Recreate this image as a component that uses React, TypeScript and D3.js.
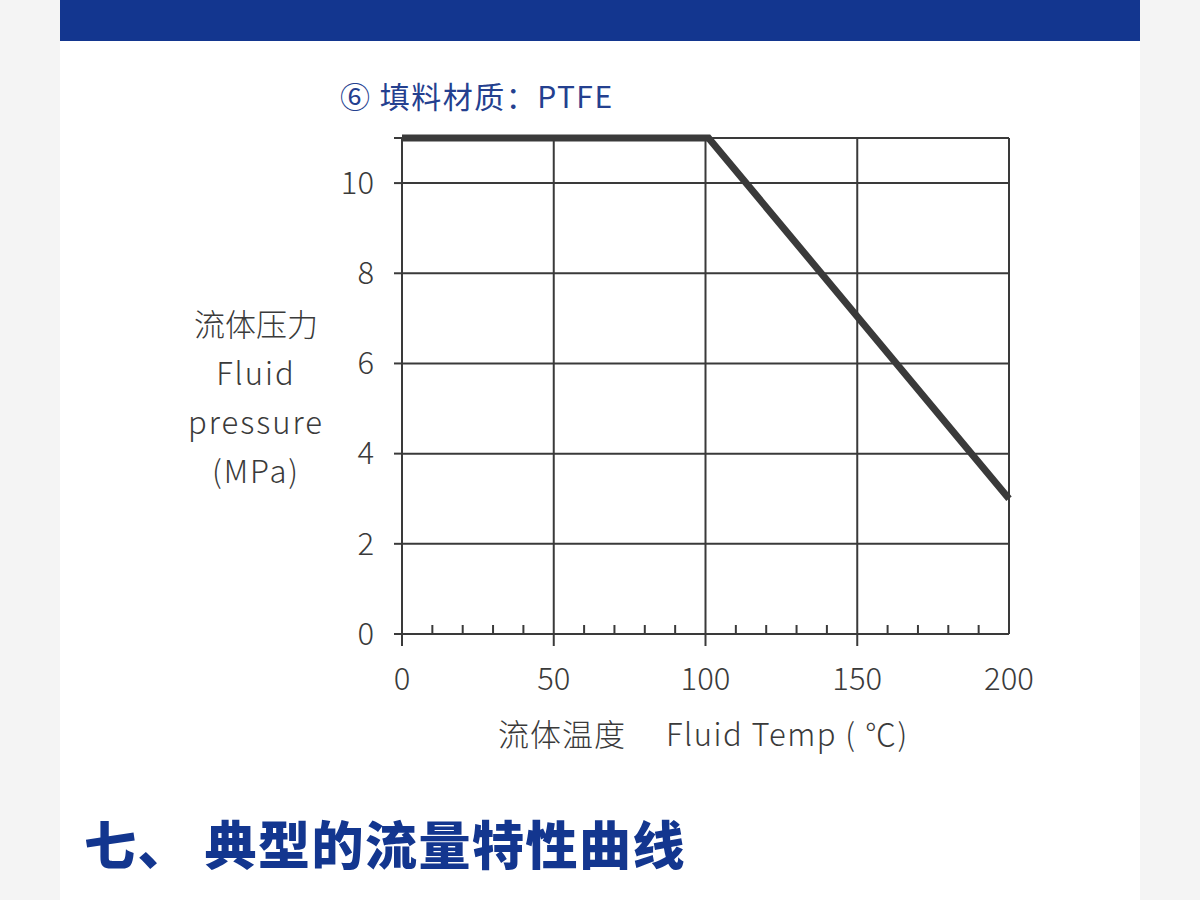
import React from "react";
import * as d3 from "d3";

const tempPoints = [0, 101, 200];
const pressurePoints = [11, 11, 3];
const yTicks = [0, 2, 4, 6, 8, 10];
const yGrid = [2, 4, 6, 8, 10, 11];
const xTicks = [0, 50, 100, 150, 200];
const xMajorTickMarks = [0, 50, 100, 150];
const xGrid = [50, 100, 150, 200];
const xMinor = d3.range(0, 201, 10).filter((v) => v % 50 !== 0);
const titleText = "⑥ 填料材质：PTFE";
const yLabelLines = ["流体压力", "Fluid", "pressure", "(MPa)"];
const xLabelCn = "流体温度";
const xLabelEn = "Fluid Temp ( ℃)";
const sectionHeading = "七、 典型的流量特性曲线";

const FONT = "'Noto Sans CJK SC', 'Noto Sans', sans-serif";
const INK = "#3a3a3a";
const BLUE = "#13368f";

export default function App() {
  const x = d3.scaleLinear().domain([0, 200]).range([402, 1009]);
  const y = d3.scaleLinear().domain([0, 11]).range([634, 138]);
  const data = tempPoints.map((t, i) => [t, pressurePoints[i]] as [number, number]);
  const line = d3
    .line<[number, number]>()
    .x((d) => x(d[0]))
    .y((d) => y(d[1]));

  return (
    <svg
      width={1200}
      height={900}
      style={{ position: "absolute", left: 0, top: 0, background: "#ffffff" }}
    >
      <rect x={0} y={0} width={60} height={900} fill="#f4f4f4" />
      <rect x={1140} y={0} width={60} height={900} fill="#f4f4f4" />
      <rect x={60} y={0} width={1080} height={41} fill={BLUE} />

      <text
        x={340}
        y={108}
        fontFamily={FONT}
        fontSize={30}
        fill="#24408f"
        letterSpacing={1.5}
      >
        {titleText}
      </text>

      {/* grid */}
      {yGrid.map((v) => (
        <line key={"yg" + v} x1={x(0)} x2={x(200)} y1={y(v)} y2={y(v)} stroke={INK} strokeWidth={2} />
      ))}
      {xGrid.map((v) => (
        <line key={"xg" + v} x1={x(v)} x2={x(v)} y1={y(0)} y2={y(11)} stroke={INK} strokeWidth={2} />
      ))}

      {/* axes */}
      <line x1={x(0)} x2={x(0)} y1={y(11)} y2={y(0)} stroke={INK} strokeWidth={2} />
      <line x1={x(0)} x2={x(200)} y1={y(0)} y2={y(0)} stroke={INK} strokeWidth={2} />

      {/* y ticks */}
      {yGrid.concat([0]).map((v) => (
        <line key={"yt" + v} x1={x(0) - 8} x2={x(0)} y1={y(v)} y2={y(v)} stroke={INK} strokeWidth={2} />
      ))}
      {yTicks.map((v) => (
        <text
          key={"yl" + v}
          x={374}
          y={y(v)}
          dy="0.35em"
          textAnchor="end"
          fontFamily={FONT}
          fontWeight={300}
          fontSize={31}
          fill={INK}
        >
          {v}
        </text>
      ))}

      {/* x ticks */}
      {xMajorTickMarks.map((v) => (
        <line key={"xt" + v} x1={x(v)} x2={x(v)} y1={y(0)} y2={y(0) + 12} stroke={INK} strokeWidth={2} />
      ))}
      {xMinor.map((v) => (
        <line key={"xm" + v} x1={x(v)} x2={x(v)} y1={y(0)} y2={y(0) - 9} stroke={INK} strokeWidth={2} />
      ))}
      {xTicks.map((v) => (
        <text
          key={"xl" + v}
          x={x(v)}
          y={690}
          textAnchor="middle"
          fontFamily={FONT}
          fontWeight={300}
          fontSize={31}
          fill={INK}
        >
          {v}
        </text>
      ))}

      {/* curve */}
      <path
        d={line(data) || ""}
        fill="none"
        stroke={INK}
        strokeWidth={7}
        strokeLinejoin="miter"
        strokeLinecap="butt"
      />

      {/* y label */}
      {yLabelLines.map((s, i) => (
        <text
          key={"ylab" + i}
          x={256}
          y={325 + i * 49}
          dy="0.35em"
          textAnchor="middle"
          fontFamily={FONT}
          fontWeight={300}
          fontSize={31}
          fill={INK}
          letterSpacing={i === 0 ? 0 : 2}
        >
          {s}
        </text>
      ))}

      {/* x label */}
      <text x={498} y={735} dy="0.35em" fontFamily={FONT} fontWeight={300} fontSize={31} fill={INK} letterSpacing={1}>
        {xLabelCn}
      </text>
      <text x={666} y={735} dy="0.35em" fontFamily={FONT} fontWeight={300} fontSize={31} fill={INK} letterSpacing={1.5}>
        {xLabelEn}
      </text>

      {/* section heading */}
      <text
        x={84}
        y={847}
        dy="0.35em"
        fontFamily={FONT}
        fontWeight={900}
        fontSize={52}
        fill={BLUE}
        letterSpacing={1.5}
      >
        {sectionHeading}
      </text>
    </svg>
  );
}
